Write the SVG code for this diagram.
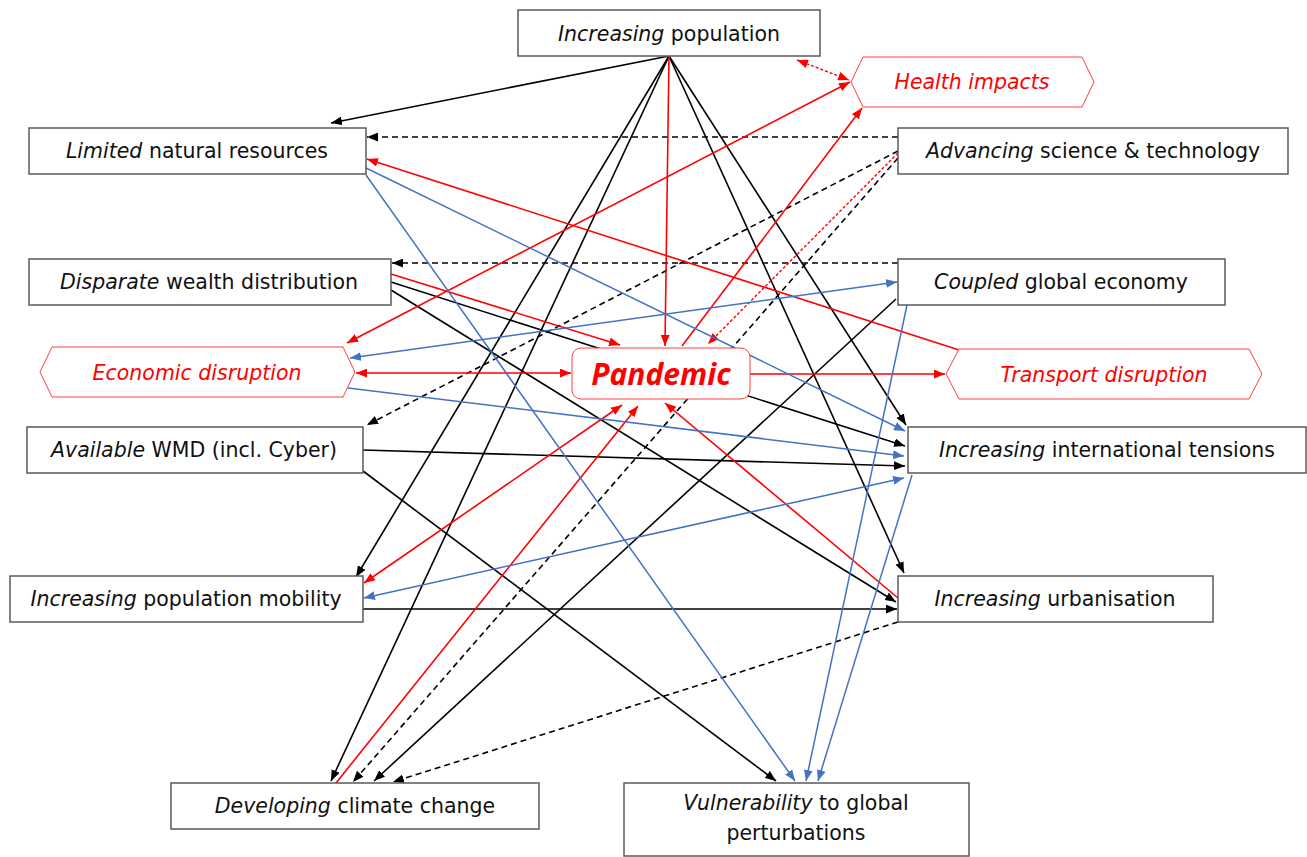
<svg xmlns="http://www.w3.org/2000/svg" width="1307" height="857" viewBox="0 0 1307 857">
  <defs>
    <marker id="ah-k" viewBox="0 0 10 8" refX="10" refY="4" markerWidth="11" markerHeight="9" markerUnits="userSpaceOnUse" orient="auto-start-reverse">
      <path d="M0,0 L10,4 L0,8 z" fill="#000"/>
    </marker>
    <marker id="ah-r" viewBox="0 0 10 8" refX="10" refY="4" markerWidth="11" markerHeight="9" markerUnits="userSpaceOnUse" orient="auto-start-reverse">
      <path d="M0,0 L10,4 L0,8 z" fill="#ff0000"/>
    </marker>
    <marker id="ah-b" viewBox="0 0 10 8" refX="10" refY="4" markerWidth="11" markerHeight="9" markerUnits="userSpaceOnUse" orient="auto-start-reverse">
      <path d="M0,0 L10,4 L0,8 z" fill="#4472c4"/>
    </marker>
  </defs>
  <style>
    .box { fill: #fff; stroke: #595959; stroke-width: 1.5; }
    .rbox { fill: #fff; stroke: #ff4040; stroke-width: 1; }
    .lbl { font-family: "DejaVu Sans", "Noto Sans", sans-serif; font-size: 20.5px; fill: #111; text-anchor: middle; }
    .rlbl { font-family: "DejaVu Sans", "Noto Sans", sans-serif; font-size: 20.5px; fill: #ff0000; font-style: italic; text-anchor: middle; }
    .it { font-style: italic; }
    .k { fill: none; stroke: #000; stroke-width: 1.6; marker-end: url(#ah-k); }
    .kd { fill: none; stroke: #000; stroke-width: 1.6; stroke-dasharray: 6 4; marker-end: url(#ah-k); }
    .r { fill: none; stroke: #ff0000; stroke-width: 1.6; marker-end: url(#ah-r); }
    .rd { fill: none; stroke: #ff0000; stroke-width: 1.4; stroke-dasharray: 3 2; marker-end: url(#ah-r); }
    .b { fill: none; stroke: #4472c4; stroke-width: 1.5; marker-end: url(#ah-b); }
    .r2 { marker-start: url(#ah-r); }
    .b2 { marker-start: url(#ah-b); }
  </style>

  <g id="connectors">
    <!-- black solid -->
    <path class="k" d="M669,56 L331,123"/>
    <path class="k" d="M669,56 L356,577"/>
    <path class="k" d="M669,56 L331,781"/>
    <path class="k" d="M669,56 L906,425"/>
    <path class="k" d="M669,56 L904,573"/>
    <path class="k" d="M391,282 L905,446"/>
    <path class="k" d="M391,290 L896,602"/>
    <path class="k" d="M363,450 L905,466"/>
    <path class="k" d="M363,471 L776,781"/>
    <path class="k" d="M363,609 L897,609"/>
    <path class="k" d="M896,299 L374,781"/>
    <!-- black dashed -->
    <path class="kd" d="M898,137 L367,137"/>
    <path class="kd" d="M898,263 L392,263"/>
    <path class="kd" d="M898,151 L367,425"/>
    <path class="kd" d="M898,158 L353,782"/>
    <path class="kd" d="M898,622 L393,782"/>
    <!-- red solid -->
    <path class="r" d="M669,56 L665,346"/>
    <path class="r r2" d="M347,343 L850,82"/>
    <path class="r" d="M682,346 L862,108"/>
    <path class="r" d="M959,350 L367,159"/>
    <path class="r" d="M391,274 L620,345"/>
    <path class="r r2" d="M356,373 L571,373"/>
    <path class="r" d="M750,374 L945,374"/>
    <path class="r r2" d="M364,583 L622,405"/>
    <path class="r" d="M336,783 L638,406"/>
    <path class="r" d="M898,598 L665,403"/>
    <!-- red dashed -->
    <path class="rd" d="M898,153 L708,344"/>
    <path class="rd r2" d="M797,60 L849,80"/>
    <!-- blue -->
    <path class="b" d="M366,168 L905,431"/>
    <path class="b" d="M366,175 L795,781"/>
    <path class="b b2" d="M350,358 L897,282"/>
    <path class="b" d="M348,388 L904,456"/>
    <path class="b b2" d="M364,598 L904,478"/>
    <path class="b" d="M907,305 L806,781"/>
    <path class="b" d="M912,475 L818,781"/>
  </g>

  <g id="increasing-population">
    <rect class="box" x="518" y="10" width="302" height="46"/>
    <text class="lbl" x="669" y="41"><tspan class="it">Increasing</tspan> population</text>
  </g>
  <g id="health-impacts">
    <polygon class="rbox" points="851,82 863,57 1082,57 1094,82 1082,107 863,107"/>
    <text class="rlbl" x="972" y="89">Health impacts</text>
  </g>
  <g id="limited-resources">
    <rect class="box" x="29" y="128" width="337" height="46"/>
    <text class="lbl" x="197" y="158"><tspan class="it">Limited</tspan> natural resources</text>
  </g>
  <g id="advancing-science">
    <rect class="box" x="898" y="128" width="390" height="46"/>
    <text class="lbl" x="1093" y="158"><tspan class="it">Advancing</tspan> science &amp; technology</text>
  </g>
  <g id="disparate-wealth">
    <rect class="box" x="29" y="259" width="362" height="46"/>
    <text class="lbl" x="209" y="289"><tspan class="it">Disparate</tspan> wealth distribution</text>
  </g>
  <g id="coupled-economy">
    <rect class="box" x="898" y="259" width="327" height="46"/>
    <text class="lbl" x="1061" y="289"><tspan class="it">Coupled</tspan> global economy</text>
  </g>
  <g id="economic-disruption">
    <polygon class="rbox" points="40,372 52,347 343,347 355,372 343,397 52,397"/>
    <text class="rlbl" x="197" y="380">Economic disruption</text>
  </g>
  <g id="pandemic">
    <rect class="rbox" x="572" y="348" width="178" height="51" rx="9"/>
    <text x="661" y="385" font-family="Noto Sans, DejaVu Sans, sans-serif" font-size="30" font-weight="bold" font-style="italic" fill="#ff0000" text-anchor="middle">Pandemic</text>
  </g>
  <g id="transport-disruption">
    <polygon class="rbox" points="946,374 959,349 1249,349 1262,374 1249,399 959,399"/>
    <text class="rlbl" x="1104" y="382">Transport disruption</text>
  </g>
  <g id="available-wmd">
    <rect class="box" x="27" y="427" width="336" height="46"/>
    <text class="lbl" x="194" y="457"><tspan class="it">Available</tspan> WMD (incl. Cyber)</text>
  </g>
  <g id="international-tensions">
    <rect class="box" x="908" y="427" width="398" height="46"/>
    <text class="lbl" x="1107" y="457"><tspan class="it">Increasing</tspan> international tensions</text>
  </g>
  <g id="population-mobility">
    <rect class="box" x="10" y="576" width="353" height="46"/>
    <text class="lbl" x="186" y="606"><tspan class="it">Increasing</tspan> population mobility</text>
  </g>
  <g id="urbanisation">
    <rect class="box" x="898" y="576" width="315" height="46"/>
    <text class="lbl" x="1055" y="606"><tspan class="it">Increasing</tspan> urbanisation</text>
  </g>
  <g id="climate-change">
    <rect class="box" x="171" y="783" width="368" height="46"/>
    <text class="lbl" x="355" y="813"><tspan class="it">Developing</tspan> climate change</text>
  </g>
  <g id="vulnerability">
    <rect class="box" x="624" y="783" width="345" height="73"/>
    <text class="lbl" x="796" y="810"><tspan class="it">Vulnerability</tspan> to global</text>
    <text class="lbl" x="796" y="840">perturbations</text>
  </g>
</svg>
